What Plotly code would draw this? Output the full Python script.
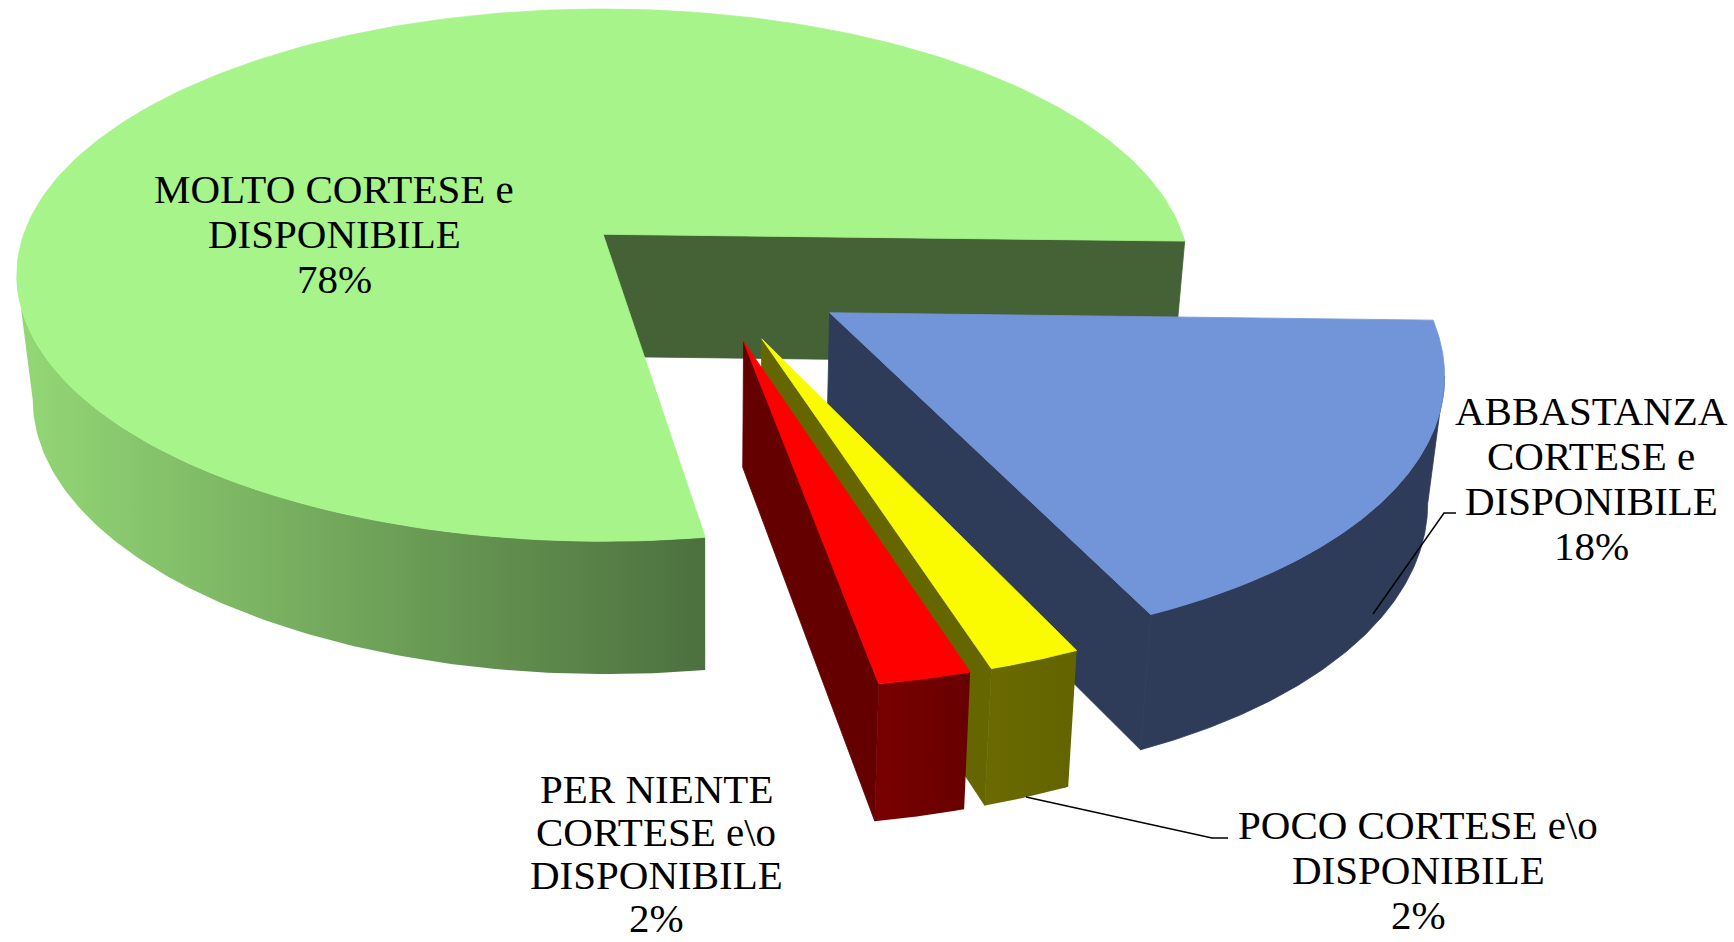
import numpy as np
import plotly.graph_objects as go

# ---- data, in drawing order around the pie (clockwise on screen) ----
names = ["ABBASTANZA CORTESE e DISPONIBILE", "POCO CORTESE e\\o DISPONIBILE",
         "PER NIENTE CORTESE e\\o DISPONIBILE", "MOLTO CORTESE e DISPONIBILE"]
values = [18.0, 2.1, 2.1, 77.8]
label_lines = [["ABBASTANZA", "CORTESE e", "DISPONIBILE"],
               ["POCO CORTESE e\\o", "DISPONIBILE"],
               ["PER NIENTE", "CORTESE e\\o", "DISPONIBILE"],
               ["MOLTO CORTESE e", "DISPONIBILE"]]
label_pos = [(1591, 411), (1418, 825), (656, 789), (334, 189)]
label_step = [45, 45, 43, 45]
top_col = ["#7295D9", "#FAFA00", "#FF0000", "#A6F48A"]
cut_col = ["#2E3C5A", "#666600", "#640000", "#446236"]
wall_col = [("#2E3C5A", "#2E3C5A"), ("#6A6A00", "#646400"), ("#7A0000", "#680000"), ("#94D876", "#4C703E")]
rim_radius = [0.99, 0.99, 0.99, 1.0]

# ---- projection of the tilted pie ----
F = 1734 / 1568
X0, Y0, RX, RY, K = 545 * F, 212 * F, 524 * F, 235 * F, 0.1536
CU, CV, EXPLODE = 0.178, 0.156, 0.2365
START = 1.5
XV, RHO, H = 640 * F, 0.977, 110.5 * F


def project(u, v):
    s = 1 / (1 - K * np.asarray(v))
    return X0 + RX * np.asarray(u) * s, Y0 + RY * np.asarray(v) * s, s


def lower(x, y, s):
    return XV + (x - XV) * RHO, y + H * np.sqrt(s)


fig = go.Figure()


def poly(xs, ys, color=None, grad=None):
    if grad is None:
        kw = dict(fillcolor=color, line=dict(width=0.8, color=color))
    else:
        kw = dict(fillgradient=dict(type="horizontal", colorscale=[[0, grad[0]], [1, grad[1]]]),
                  line=dict(width=0))
    fig.add_trace(go.Scatter(x=list(xs), y=list(ys), mode="lines", fill="toself",
                             hoverinfo="skip", showlegend=False, **kw))


shares = np.array(values) / sum(values) * 360
ends = START + np.cumsum(shares)
starts = ends - shares

slices = []
for a0, a1, rad in zip(starts, ends, rim_radius):
    mid = np.radians((a0 + a1) / 2)
    slices.append((a0, a1, CU + EXPLODE * np.cos(mid), CV + EXPLODE * np.sin(mid), rad))


def rim(au, av, rad, a0, a1, n=120):
    t = np.radians(np.linspace(a0, a1, n))
    return project(au + rad * np.cos(t), av + rad * np.sin(t))


def silhouette_angle(i, a0, a1, side):
    """Angle on the rim where the wall's outline leaves the top face."""
    _, _, au, av, rad = slices[i]
    t = np.linspace(a0, a1, 720)
    x, _, _ = rim(au, av, rad, a0, a1, 720)
    return t[np.argmax(x * side)]


def draw(i, cut_angle, wall_from, wall_to):
    a0, a1, au, av, rad = slices[i]
    ax, ay, asc = project(au, av)
    # outer wall
    tx, ty, ts = rim(au, av, rad, wall_from, wall_to)
    bx, by = lower(tx, ty, ts)
    if wall_col[i][0] == wall_col[i][1]:
        poly(np.r_[tx, bx[::-1], tx[0]], np.r_[ty, by[::-1], ty[0]], wall_col[i][0])
    else:
        poly(np.r_[tx, bx[::-1], tx[0]], np.r_[ty, by[::-1], ty[0]], grad=wall_col[i])
    # cut face
    rx, ry, rs = rim(au, av, rad, cut_angle, cut_angle, 2)
    bax, bay = lower(ax, ay, asc)
    brx, bry = lower(rx, ry, rs)
    poly([ax, rx[0], brx[0], bax, ax], [ay, ry[0], bry[0], bay, ay], cut_col[i])
    # top face
    fx, fy, _ = rim(au, av, rad, a0, a1, 240)
    poly(np.r_[ax, fx, ax], np.r_[ay, fy, ay], top_col[i])


# painter's order: big slice, then the pulled slices from right to left
draw(3, ends[3] - 360, starts[3], silhouette_angle(3, starts[3], 260, -1))
draw(0, ends[0], silhouette_angle(0, starts[0], ends[0], 1), ends[0])
draw(1, ends[1], starts[1], ends[1])
draw(2, ends[2], starts[2], ends[2])

# ---- leader lines ----
leaders = [([1373, 1444, 1456], [614, 513, 513]), ([1026, 1212, 1228], [797, 838, 838])]
for lx, ly in leaders:
    fig.add_trace(go.Scatter(x=lx, y=ly, mode="lines", line=dict(color="black", width=1.5),
                             hoverinfo="skip", showlegend=False))

# ---- labels ----
for lines, v, (lx, ly), step in zip(label_lines, values, label_pos, label_step):
    for j, txt in enumerate(lines + [f"{round(v)}%"]):
        fig.add_annotation(x=lx, y=ly + j * step, text=txt, showarrow=False, xanchor="center",
                           yanchor="middle", font=dict(family="Liberation Serif", size=41, color="black"))

axis = dict(visible=False, fixedrange=True)
fig.update_layout(width=1734, height=942, margin=dict(l=0, r=0, t=0, b=0), plot_bgcolor="white",
                  paper_bgcolor="white", showlegend=False,
                  xaxis=dict(range=[0, 1734], **axis), yaxis=dict(range=[942, 0], **axis))
fig.write_html("out.html", config={"displayModeBar": False},
               post_script="document.body.style.margin='0';document.body.style.overflow='hidden';")
